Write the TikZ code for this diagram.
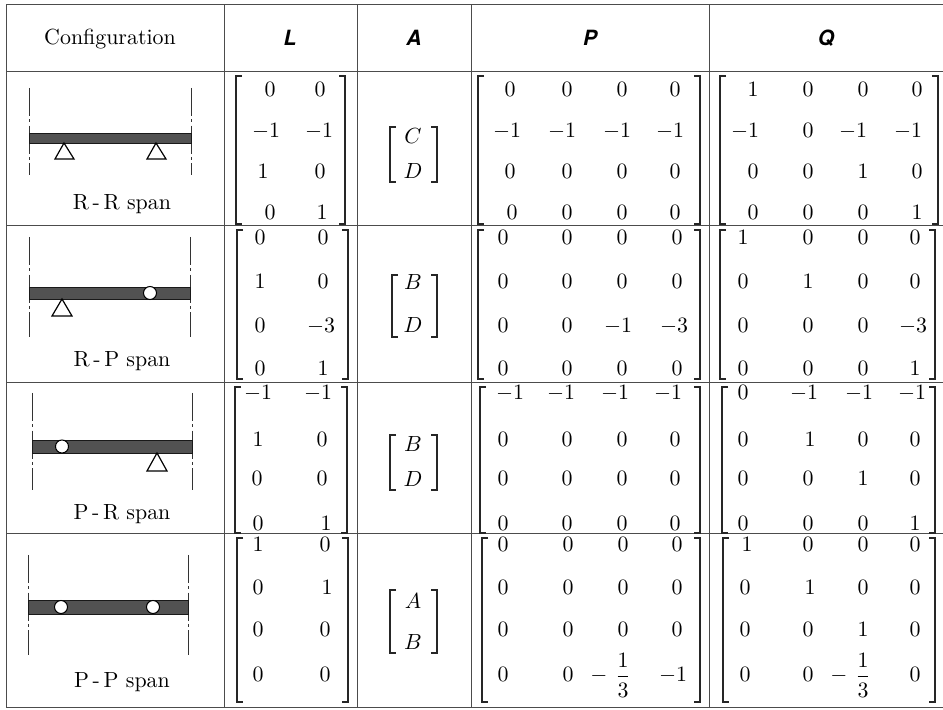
\documentclass[tikz,border=0pt]{standalone}
\usepackage{fontspec}
\usepackage{amsmath}
\newfontfamily\hdrfont{TeX Gyre Heros}
\tikzset{
  gridline/.style={draw=black!70, line width=0.5pt},
  ent/.style={anchor=base, inner sep=0pt, font=\fontsize{10.95}{13}\selectfont},
  hdr/.style={anchor=base, inner sep=0pt, font=\hdrfont\bfseries\itshape\fontsize{10.5}{12}\selectfont},
  lbl/.style={anchor=base, inner sep=0pt, font=\fontsize{10.95}{13}\selectfont},
  brk/.style={line width=1pt, draw=black!85},
  beam/.style={fill=black!68, draw=black!90, line width=0.4pt},
  supp/.style={draw=black, line width=0.6pt, fill=white},
  hinge/.style={circle, draw=black, fill=white, line width=0.5pt, inner sep=0pt, minimum size=6.5pt},
  axisline/.style={draw=black!80, line width=0.5pt, dash pattern=on 14pt off 1.6pt on 1.6pt off 1.6pt}
}
\newcommand\mline[3]{%
  \foreach \xx/\ee [count=\cc] in {#3} {\node[ent] (#1-\cc) at (\xx,#2) {$\ee$};}}
\newcommand\lbrk[3]{\draw[brk] (#1+6,#2) -- (#1,#2) -- (#1,#3) -- (#1+6,#3);}
\newcommand\rbrk[3]{\draw[brk] (#1-6,#2) -- (#1,#2) -- (#1,#3) -- (#1-6,#3);}
\begin{document}
\begin{tikzpicture}[x=0.5pt,y=-0.5pt]
\useasboundingbox (0,0) rectangle (943,710);
% ---- table grid ----
\draw[gridline] (6,5) -- (943,5);
\foreach \yy in {72,226,383,534,708} \draw[gridline] (6,\yy) -- (943,\yy);
\foreach \xx in {6,224,357,471,709} \draw[gridline] (\xx,5) -- (\xx,708);
% ---- headers ----
\node[lbl] (hc) at (110,45) {Configuration};
\node[hdr] (hl) at (290,46) {L};
\node[hdr] (ha) at (414,46) {A};
\node[hdr] (hp) at (590,46) {P};
\node[hdr] (hq) at (826,46) {Q};
% ---- row 1: R-R span ----
\draw[axisline] (29,88) -- (29,175);
\draw[axisline] (191,88) -- (191,175);
\draw[beam] (29,133) rectangle (191,143);
\draw[supp] (64,143) -- (55,159) -- (74,159) -- cycle;
\draw[supp] (156,143) -- (147,159) -- (166,159) -- cycle;
\node[lbl] (c1) at (122,210) {R\,-\,R span};
% ---- row 2: R-P span ----
\draw[axisline] (29,237) -- (29,337);
\draw[axisline] (190,237) -- (190,337);
\draw[beam] (29,287) rectangle (190,299);
\draw[supp] (62,299) -- (52,316) -- (72,316) -- cycle;
\node[hinge] (h2) at (150,293) {};
\node[lbl] (c2) at (122,367) {R\,-\,P span};
% ---- row 3: P-R span ----
\draw[axisline] (32,393) -- (32,490);
\draw[axisline] (192,393) -- (192,490);
\draw[beam] (32,440) rectangle (192,453);
\draw[supp] (157,453) -- (147,471) -- (167,471) -- cycle;
\node[hinge] (h3) at (62,446.5) {};
\node[lbl] (c3) at (122,520) {P\,-\,R span};
% ---- row 4: P-P span ----
\draw[axisline] (28,555) -- (28,655);
\draw[axisline] (188,555) -- (188,655);
\draw[beam] (28,600) rectangle (188,614);
\node[hinge] (h4a) at (61,607) {};
\node[hinge] (h4b) at (153,607) {};
\node[lbl] (c4) at (122,688) {P\,-\,P span};
% ================= brackets =================
% row 1
\lbrk{236}{76}{224} \rbrk{345}{76}{224}
\lbrk{390}{127}{182} \rbrk{437}{127}{182}
\lbrk{478}{76}{224} \rbrk{700}{76}{224}
\lbrk{720}{76}{224} \rbrk{938}{76}{224}
% row 2
\lbrk{237}{230}{379} \rbrk{348}{230}{379}
\lbrk{392}{275}{337} \rbrk{437}{275}{337}
\lbrk{478}{230}{379} \rbrk{700}{230}{379}
\lbrk{720}{230}{379} \rbrk{935}{230}{379}
% row 3
\lbrk{235}{387}{533} \rbrk{347}{387}{533}
\lbrk{390}{435}{490} \rbrk{437}{435}{490}
\lbrk{480}{387}{533} \rbrk{700}{387}{533}
\lbrk{722}{387}{533} \rbrk{935}{387}{533}
% row 4
\lbrk{237}{538}{702} \rbrk{348}{538}{702}
\lbrk{390}{590}{653} \rbrk{437}{590}{653}
\lbrk{482}{538}{702} \rbrk{700}{538}{702}
\lbrk{723}{538}{702} \rbrk{935}{538}{702}
% ================= entries =================
% row 1
\mline{aL1}{97}{270/0,320/0}
\mline{aL2}{138}{266/-1,319/-1}
\mline{aL3}{179}{263/1,320/0}
\mline{aL4}{220}{270/0,322/1}
\node[ent] (aA1) at (413,144) {$C$};
\node[ent] (aA2) at (413,179) {$D$};
\mline{aP1}{97}{510/0,567/0,622/0,675/0}
\mline{aP2}{138}{507/-1,562/-1,617/-1,670/-1}
\mline{aP3}{179}{510/0,567/0,622/0,675/0}
\mline{aP4}{220}{512/0,567/0,622/0,675/0}
\mline{aQ1}{97}{753/1,808/0,863/0,917/0}
\mline{aQ2}{138}{745/-1,808/0,853/-1,908/-1}
\mline{aQ3}{179}{753/0,808/0,863/1,917/0}
\mline{aQ4}{220}{753/0,808/0,863/0,917/1}
% row 2
\mline{bL1}{245}{260/0,323/0}
\mline{bL2}{289}{260/1,323/0}
\mline{bL3}{333}{260/0,321/-3}
\mline{bL4}{376}{260/0,323/1}
\node[ent] (bA1) at (413,290) {$B$};
\node[ent] (bA2) at (413,333) {$D$};
\mline{bP1}{245}{503/0,567/0,622/0,677/0}
\mline{bP2}{289}{503/0,567/0,622/0,677/0}
\mline{bP3}{333}{503/0,567/0,618/-1,674/-3}
\mline{bP4}{376}{503/0,567/0,622/0,677/0}
\mline{bQ1}{245}{743/1,808/0,863/0,915/0}
\mline{bQ2}{289}{743/0,808/1,863/0,915/0}
\mline{bQ3}{333}{743/0,808/0,863/0,913/-3}
\mline{bQ4}{376}{743/0,808/0,863/0,915/1}
% row 3
\mline{cL1}{400}{258/-1,318/-1}
\mline{cL2}{447}{258/1,322/0}
\mline{cL3}{486}{257/0,322/0}
\mline{cL4}{531}{258/0,326/1}
\node[ent] (cA1) at (413,452) {$B$};
\node[ent] (cA2) at (413,487) {$D$};
\mline{cP1}{400}{510/-1,561/-1,615/-1,668/-1}
\mline{cP2}{447}{503/0,567/0,622/0,675/0}
\mline{cP3}{486}{503/0,567/0,622/0,675/0}
\mline{cP4}{531}{503/0,567/0,622/0,675/0}
\mline{cQ1}{400}{743/0,804/-1,859/-1,912/-1}
\mline{cQ2}{447}{743/0,810/1,863/0,915/0}
\mline{cQ3}{486}{743/0,808/0,863/1,915/0}
\mline{cQ4}{531}{743/0,808/0,863/0,915/1}
% row 4
\mline{dL1}{552}{258/1,325/0}
\mline{dL2}{595}{258/0,327/1}
\mline{dL3}{637}{258/0,325/0}
\mline{dL4}{682}{258/0,325/0}
\node[ent] (dA1) at (413,609) {$A$};
\node[ent] (dA2) at (413,650) {$B$};
\mline{dP1}{552}{503/0,568/0,623/0,677/0}
\mline{dP2}{595}{503/0,568/0,623/0,677/0}
\mline{dP3}{637}{503/0,568/0,623/0,677/0}
\mline{dP4}{682}{503/0,568/0,599/-,623/{\dfrac{1}{3}},673/-1}
\mline{dQ1}{552}{747/1,808/0,863/0,915/0}
\mline{dQ2}{595}{745/0,810/1,863/0,915/0}
\mline{dQ3}{637}{745/0,808/0,863/1,915/0}
\mline{dQ4}{682}{745/0,808/0,839/-,863/{\dfrac{1}{3}},915/0}
\end{tikzpicture}
\end{document}
